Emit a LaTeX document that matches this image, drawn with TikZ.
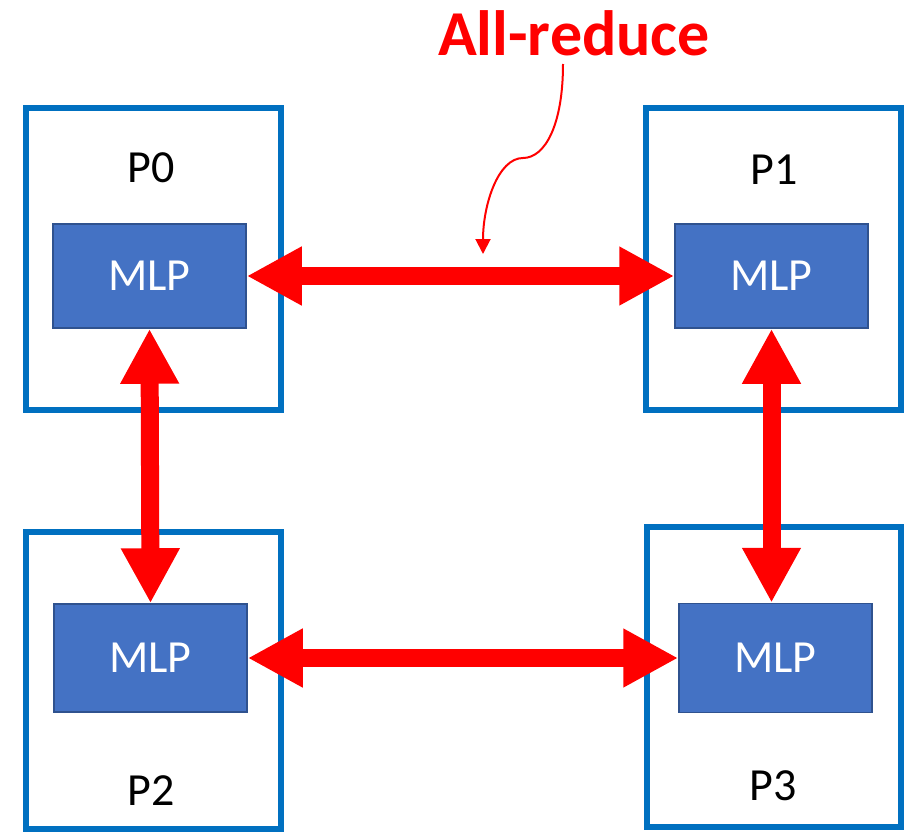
\documentclass[tikz,border=0pt]{standalone}
\usepackage{fontspec}
\setmainfont{Carlito}
\usetikzlibrary{arrows.meta}
\definecolor{procblue}{HTML}{0070C0}
\definecolor{mlpfill}{HTML}{4472C4}
\definecolor{mlpedge}{HTML}{2F528F}
\definecolor{commred}{HTML}{FF0000}
\tikzset{
  procbox/.style={draw=procblue, line width=6pt, fill=none, inner sep=0pt},
  mlpbox/.style={draw=mlpedge, line width=1.5pt, fill=mlpfill, text=white,
    minimum width=193pt, inner sep=0pt, font=\fontsize{46}{52}\selectfont},
  plabel/.style={text=black, inner sep=0pt, font=\fontsize{46}{52}\selectfont},
  comm/.style={draw=commred, line width=18pt,
    {Triangle[length=55pt,width=55pt]}-{Triangle[length=55pt,width=55pt]}},
  pointer/.style={draw=commred, line width=2pt,
    -{Triangle[length=15pt,width=15pt]}}
}
\begin{document}
\begin{tikzpicture}[x=1pt,y=-1pt]
  \useasboundingbox (0,0) rectangle (910,832);
  \fill[white] (0,0) rectangle (910,832);

  % processor frames
  \node[procbox, minimum width=255pt, minimum height=302pt] (b0) at (153.5,259) {};
  \node[procbox, minimum width=255pt, minimum height=302pt] (b1) at (773.5,259) {};
  \node[procbox, minimum width=255pt, minimum height=297pt] (b2) at (153,680.5) {};
  \node[procbox, minimum width=254pt, minimum height=300pt] (b3) at (774,677) {};

  % processor names
  \node[plabel] (p0) at (151,168) {P0};
  \node[plabel] (p1) at (774.5,170) {P1};
  \node[plabel] (p2) at (151.5,791) {P2};
  \node[plabel] (p3) at (773.5,786) {P3};

  % model replicas
  \node[mlpbox, minimum height=104pt] (m0) at (149.5,276) {MLP};
  \node[mlpbox, minimum height=104pt] (m1) at (771.5,276) {MLP};
  \node[mlpbox, minimum height=108pt] (m2) at (150.5,658) {MLP};
  \node[mlpbox, minimum height=109pt] (m3) at (775.5,658) {MLP};

  % gradient exchange
  \draw[comm] (m0.east) -- (m1.west);
  \draw[comm] (m2.east) -- (m3.west);
  \draw[comm] (m0.south) -- (m2.north);
  \draw[comm] (m1.south) -- (m3.north -| m1.south);

  % annotation
  \node[text=commred, inner sep=0pt, font=\fontsize{64}{72}\selectfont\bfseries] (ar) at (574,33) {All-reduce};
  \coordinate (cstart) at (563,64);
  \coordinate (cmid) at (523,158);
  \coordinate (ctip) at (483,254);
  \draw[pointer] (cstart) .. controls (563,125) and (545,158) .. (cmid)
                 .. controls (498,158) and (483,205) .. (ctip);
\end{tikzpicture}
\end{document}
